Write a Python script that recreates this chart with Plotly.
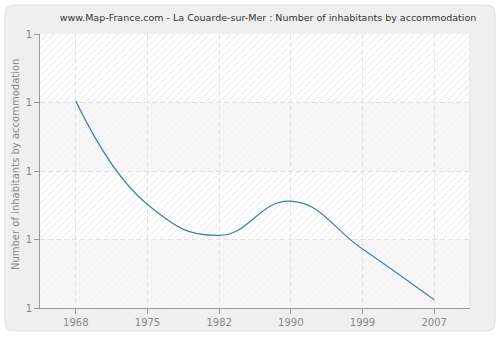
import plotly.graph_objects as go

# Census years and average number of inhabitants per accommodation
years = ["1968", "1975", "1982", "1990", "1999", "2007"]
inhabitants_per_home = [1.302, 1.151, 1.106, 1.156, 1.086, 1.012]

# Y axis ticks (all rounded to "1" on display)
y_ticks = [1.0, 1.1, 1.2, 1.3, 1.4]

W, H = 500, 340
ML, MR, MT, MB = 40, 30, 34, 30
PW, PH = W - ML - MR, H - MT - MB


def px(x):
    return (x - ML) / PW


def py(y):
    return (H - MB - y) / PH


fig = go.Figure()

# Hatched background bands (transparent bars with a diagonal pattern)
hatch_x = years * 2
hatch_base = [y_ticks[3]] * len(years) + [y_ticks[1]] * len(years)
fig.add_trace(go.Bar(
    x=hatch_x, y=[0.1] * len(hatch_x), base=hatch_base, width=1,
    marker=dict(color="rgba(0,0,0,0)", line=dict(width=0),
                pattern=dict(shape="/", fgcolor="#e0e0e0", bgcolor="rgba(0,0,0,0)",
                             size=5, solidity=0.25)),
    hoverinfo="skip", showlegend=False,
))
plain_base = [y_ticks[2]] * len(years) + [y_ticks[0]] * len(years)
fig.add_trace(go.Bar(
    x=hatch_x, y=[0.1] * len(hatch_x), base=plain_base, width=1,
    marker=dict(color="rgba(0,0,0,0)", line=dict(width=0),
                pattern=dict(shape="/", fgcolor="#ececec", bgcolor="rgba(0,0,0,0)",
                             size=5, solidity=0.2)),
    hoverinfo="skip", showlegend=False,
))

fig.add_trace(go.Scatter(
    x=years, y=inhabitants_per_home, mode="lines",
    line=dict(color="#4a7ab5", width=1.2, shape="spline", smoothing=1.3),
    hoverinfo="skip", showlegend=False,
))

# Rounded outer panel
x0, x1, y0, y1, r = 5, 495, 5, 333, 8
path = (
    f"M {px(x0 + r)},{py(y0)} L {px(x1 - r)},{py(y0)} "
    f"Q {px(x1)},{py(y0)} {px(x1)},{py(y0 + r)} L {px(x1)},{py(y1 - r)} "
    f"Q {px(x1)},{py(y1)} {px(x1 - r)},{py(y1)} L {px(x0 + r)},{py(y1)} "
    f"Q {px(x0)},{py(y1)} {px(x0)},{py(y1 - r)} L {px(x0)},{py(y0 + r)} "
    f"Q {px(x0)},{py(y0)} {px(x0 + r)},{py(y0)} Z"
)
shapes = [
    dict(type="path", path=path, xref="paper", yref="paper", layer="below",
         fillcolor="#efefef", line=dict(color="#dedede", width=1)),
    dict(type="rect", xref="paper", yref="paper", x0=0, x1=1, y0=0, y1=1,
         layer="below", fillcolor="#ffffff", line=dict(width=0)),
]
for lo in (y_ticks[0], y_ticks[2]):
    shapes.append(dict(type="rect", xref="paper", yref="y", x0=0, x1=1,
                       y0=lo, y1=lo + 0.1, layer="below",
                       fillcolor="#f7f7f7", line=dict(width=0)))
shapes.append(dict(type="line", xref="paper", yref="paper", x0=1, x1=1, y0=0, y1=1,
                   layer="above", line=dict(color="#e4e4e4", width=1)))

fig.update_layout(
    width=W, height=H,
    margin=dict(l=ML, r=MR, t=MT, b=MB),
    paper_bgcolor="#ffffff",
    plot_bgcolor="rgba(0,0,0,0)",
    barmode="overlay",
    font=dict(family="DejaVu Sans", size=10, color="#888888"),
    title=dict(text="www.Map-France.com - La Couarde-sur-Mer : Number of inhabitants by accommodation",
               x=0.536, xanchor="center", y=1 - 18 / H, yanchor="middle",
               font=dict(family="DejaVu Sans", size=9.5, color="#333333")),
    shapes=shapes,
    annotations=[dict(text="Number of inhabitants by accommodation", textangle=-90,
                      x=px(15), y=py(165), xref="paper", yref="paper",
                      showarrow=False, xanchor="center", yanchor="middle",
                      font=dict(family="DejaVu Sans", size=10, color="#888888"))],
    xaxis=dict(type="category", range=[-0.5, 5.5], showline=True, linecolor="#999999",
               linewidth=1, ticks="outside", ticklen=5, tickcolor="#999999",
               showgrid=True, gridcolor="#e2e2e2", griddash="5px,3px", gridwidth=1,
               zeroline=False, fixedrange=True),
    yaxis=dict(range=[y_ticks[0], y_ticks[-1]], tickvals=y_ticks, tickformat=".0f",
               showline=True, linecolor="#999999", linewidth=1, ticks="outside",
               ticklen=5, tickcolor="#999999", showgrid=True, gridcolor="#e2e2e2",
               griddash="5px,3px", gridwidth=1, zeroline=False, fixedrange=True),
)

fig.write_html("out.html")
